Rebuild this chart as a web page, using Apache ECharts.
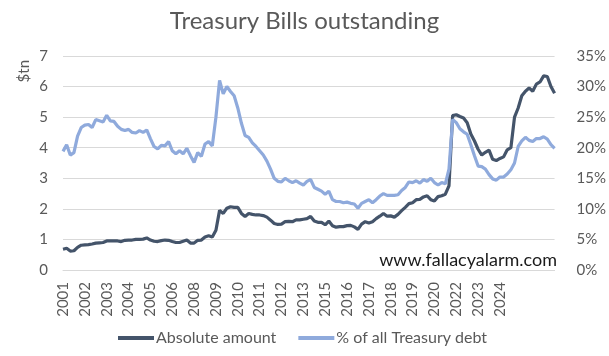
<!DOCTYPE html>
<html>
<head>
<meta charset="utf-8">
<script src="https://cdn.jsdelivr.net/npm/echarts@6/dist/echarts.min.js"></script>
<style>html,body{margin:0;padding:0;background:#fff}#c{width:609px;height:356px}</style>
</head>
<body>
<div id="c"></div>
<script>
// Tick labels shown on the x axis (one every labelStep points)
const tickLabels = ['2001','2002','2003','2004','2005','2006','2008','2009','2010','2011','2012','2013','2015','2016','2017','2018','2019','2020','2022','2023','2024'];
const labelStep = 6;

// Absolute amount of T-bills outstanding ($tn)
const absoluteAmount = [
0.68,0.71,0.62,0.63,0.74,0.81,0.82,0.83,0.85,0.88,
0.89,0.90,0.95,0.95,0.95,0.95,0.93,0.97,0.98,0.98,
1.00,1.00,1.01,1.05,0.98,0.94,0.93,0.96,0.98,0.97,
0.93,0.90,0.90,0.94,0.98,0.88,0.88,0.97,0.98,1.08,
1.12,1.08,1.30,1.95,1.85,2.02,2.07,2.05,2.05,1.85,
1.75,1.85,1.82,1.80,1.80,1.78,1.73,1.63,1.52,1.49,
1.50,1.58,1.59,1.58,1.64,1.64,1.66,1.68,1.75,1.60,
1.56,1.56,1.48,1.60,1.45,1.40,1.42,1.42,1.45,1.46,
1.41,1.33,1.50,1.58,1.54,1.58,1.68,1.76,1.85,1.76,
1.77,1.73,1.82,1.94,2.05,2.17,2.20,2.30,2.31,2.39,
2.43,2.30,2.26,2.40,2.43,2.48,2.75,5.05,5.08,5.02,
4.97,4.82,4.45,4.22,3.95,3.76,3.85,3.92,3.62,3.58,
3.65,3.70,3.93,4.00,5.00,5.30,5.70,5.85,5.95,5.85,
6.08,6.15,6.35,6.33,6.00,5.78
];

// T-bills as % of all Treasury debt
const pctOfDebt = [
19.4,20.5,18.8,19.2,21.9,23.3,23.7,23.8,23.3,24.6,
24.4,24.2,25.3,24.4,24.3,23.5,23.0,22.8,23.0,22.5,
22.4,22.8,22.5,22.9,21.5,20.2,19.8,20.4,20.3,21.0,
19.5,19.0,19.5,19.0,19.9,18.7,17.6,19.2,18.6,20.6,
21.0,20.3,25.0,31.0,28.8,30.0,29.2,28.5,26.5,24.0,
22.0,21.7,20.8,20.2,19.5,18.8,17.8,16.5,15.0,14.5,
14.4,15.0,14.6,14.3,14.6,14.2,13.9,14.5,14.8,13.5,
13.2,12.9,12.4,12.9,11.5,11.2,11.2,11.0,11.1,10.9,
10.8,10.1,10.9,11.2,11.5,11.0,11.5,12.1,12.5,12.2,
12.2,12.2,12.3,13.0,13.5,14.4,14.3,14.6,14.2,14.8,
14.5,15.0,14.3,13.9,14.3,14.1,16.5,24.6,24.1,23.1,
22.6,22.2,20.5,18.7,17.0,16.9,16.5,15.6,14.9,14.7,
15.2,15.2,15.7,16.4,17.5,20.2,21.1,21.7,21.2,21.0,
21.5,21.5,21.8,21.4,20.5,19.9
];

const categories = absoluteAmount.map((_, i) => i);
const seriesNames = ['Absolute amount', '% of all Treasury debt'];

const chart = echarts.init(document.getElementById('c'), null, {renderer: 'canvas'});
const FONT = 'Lato, "Open Sans", sans-serif';
const GREY = '#595959';

chart.setOption({
  animation: false,
  title: {
    text: 'Treasury Bills outstanding',
    left: 'center', top: 4,
    textStyle: {fontFamily: FONT, fontSize: 24, fontWeight: 'normal', color: GREY}
  },
  legend: {
    bottom: 5, left: 113, itemGap: 22,
    icon: 'rect', itemWidth: 36, itemHeight: 4,
    textStyle: {fontFamily: FONT, fontSize: 16, color: GREY, padding: [0, 0, 0, -3]},
    data: seriesNames
  },
  grid: {left: 63, right: 50, top: 56, bottom: 86, containLabel: false},
  xAxis: {
    type: 'category', data: categories, boundaryGap: false,
    axisTick: {show: false},
    axisLine: {lineStyle: {color: '#D9D9D9'}},
    axisLabel: {
      rotate: 90, margin: 12, color: GREY, fontFamily: FONT, fontSize: 15,
      interval: (idx) => idx % labelStep === 0 && idx / labelStep < tickLabels.length,
      formatter: (v, idx) => tickLabels[idx / labelStep] || ''
    },
    splitLine: {show: false}
  },
  yAxis: [
    {
      type: 'value', min: 0, max: 7, interval: 1,
      axisLine: {show: false}, axisTick: {show: false},
      axisLabel: {color: GREY, fontFamily: FONT, fontSize: 15, margin: 15},
      splitLine: {lineStyle: {color: '#D9D9D9', width: 1}}
    },
    {
      type: 'value', min: 0, max: 35, interval: 5,
      axisLine: {show: false}, axisTick: {show: false},
      axisLabel: {color: GREY, fontFamily: FONT, fontSize: 15, margin: 22, formatter: '{value}%'},
      splitLine: {show: false}
    }
  ],
  graphic: [
    {type: 'text', left: 17, top: 60, rotation: Math.PI / 2,
     style: {text: '$tn', fill: GREY, font: '15px ' + FONT}},
    {type: 'text', right: 52, top: 251,
     style: {text: 'www.fallacyalarm.com', fill: '#1a1a1a', font: '18px ' + FONT}}
  ],
  series: [
    {name: seriesNames[0], type: 'line', yAxisIndex: 0, data: absoluteAmount,
     showSymbol: false, symbol: 'none', lineStyle: {width: 3.2, color: '#44546A'}, itemStyle: {color: '#44546A'}, z: 2},
    {name: seriesNames[1], type: 'line', yAxisIndex: 1, data: pctOfDebt,
     showSymbol: false, symbol: 'none', lineStyle: {width: 3.2, color: '#8FAADC'}, itemStyle: {color: '#8FAADC'}, z: 3}
  ]
});
</script>
</body>
</html>
